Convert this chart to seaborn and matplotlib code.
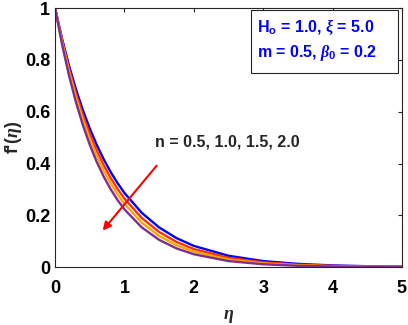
import numpy as np
import pandas as pd
import seaborn as sns
import matplotlib.pyplot as plt
from matplotlib.patches import Rectangle

# eta grid and f'(eta) values, one list per n
eta = [0, 0.1, 0.2, 0.3, 0.4, 0.5, 0.6, 0.7, 0.8, 0.9, 1.0,
       1.25, 1.5, 1.75, 2.0, 2.5, 3.0, 3.5, 4.0, 4.5, 5.0]
f_n05 = [1, 0.8825, 0.7788, 0.6873, 0.6065, 0.5353, 0.4724, 0.4169, 0.3679, 0.3247, 0.2865,
         0.2096, 0.1534, 0.1122, 0.0821, 0.0439, 0.0235, 0.0126, 0.0067, 0.0036, 0.0019]
f_n10 = [1, 0.8755, 0.7664, 0.6710, 0.5874, 0.5143, 0.4502, 0.3942, 0.3451, 0.3021, 0.2645,
         0.1897, 0.1360, 0.0975, 0.0700, 0.0360, 0.0185, 0.0095, 0.0049, 0.0025, 0.0013]
f_n15 = [1, 0.8685, 0.7543, 0.6551, 0.5689, 0.4941, 0.4291, 0.3727, 0.3237, 0.2811, 0.2441,
         0.1716, 0.1206, 0.0847, 0.0596, 0.0295, 0.0145, 0.0072, 0.0036, 0.0018, 0.0009]
f_n20 = [1, 0.8607, 0.7408, 0.6376, 0.5488, 0.4724, 0.4066, 0.3499, 0.3012, 0.2592, 0.2231,
         0.1534, 0.1054, 0.0724, 0.0498, 0.0235, 0.0111, 0.0052, 0.0025, 0.0012, 0.0006]
n_labels = ["0.5", "1.0", "1.5", "2.0"]
colors = ["#0000FF", "#FF3300", "#FFA500", "#7E2F8E"]

rows = []
for lab, vals in zip(n_labels, [f_n05, f_n10, f_n15, f_n20]):
    for e, v in zip(eta, vals):
        rows.append({"eta": e, "f": v, "n": lab})
df = pd.DataFrame(rows)

sns.set_style("white")
plt.rcParams["font.family"] = ["Liberation Sans", "DejaVu Sans"]
plt.rcParams["font.weight"] = "bold"
plt.rcParams["mathtext.fontset"] = "custom"
plt.rcParams["mathtext.rm"] = "Liberation Sans:bold"
plt.rcParams["mathtext.bf"] = "Liberation Sans:bold"
plt.rcParams["mathtext.it"] = "Liberation Serif:italic"

fig = plt.figure(figsize=(4.08, 3.25), dpi=100)
ax = fig.add_axes([0.135, 0.178, 0.85, 0.797])

sns.lineplot(data=df, x="eta", y="f", hue="n", palette=colors,
             linewidth=1.7, legend=False, ax=ax)

ax.set_xlim(0, 5)
ax.set_ylim(0, 1)
ax.set_xticks([0, 1, 2, 3, 4, 5])
ax.set_yticks([0, 0.2, 0.4, 0.6, 0.8, 1])
ax.set_yticklabels(["0", "0.2", "0.4", "0.6", "0.8", "1"])
ax.tick_params(direction="in", top=True, right=True, length=3,
               labelsize=13, colors="#262626", labelcolor="black")
ax.tick_params(axis="x", pad=9)
for lbl in ax.get_xticklabels() + ax.get_yticklabels():
    lbl.set_fontweight("bold")
for sp in ax.spines.values():
    sp.set_color("#262626")
    sp.set_linewidth(0.8)

ax.set_xlabel(r"$\eta$", fontsize=13, labelpad=8)
ax.set_ylabel(r"f'($\eta$)", fontsize=13, fontweight="bold")
ax.yaxis.set_label_coords(-0.09, 0.5)

# arrow showing increasing n
ax.annotate("", xy=(0.66, 0.133), xytext=(1.49, 0.40),
            arrowprops=dict(arrowstyle="-|>", color="#FF0000", lw=1.5,
                            mutation_scale=12))
ax.text(1.44, 0.485, "n = 0.5, 1.0, 1.5, 2.0", fontsize=11.5,
        fontweight="bold", va="center")

# parameter box
ax.add_patch(Rectangle((0.565, 0.749), 0.423, 0.243, transform=ax.transAxes,
                       fc="white", ec="#262626", lw=0.8, zorder=5))
ax.text(0.582, 0.907, "H$_{\\mathrm{o}}$ = 1.0, $\\xi$ = 5.0",
        transform=ax.transAxes, ha="left", va="baseline", fontsize=11.5,
        fontweight="bold", color="#0000FF", zorder=6)
ax.text(0.582, 0.811, "m = 0.5, $\\beta_{\\mathrm{0}}$ = 0.2",
        transform=ax.transAxes, ha="left", va="baseline", fontsize=11.5,
        fontweight="bold", color="#0000FF", zorder=6)

plt.savefig("out.png", dpi=100)
plt.close()
